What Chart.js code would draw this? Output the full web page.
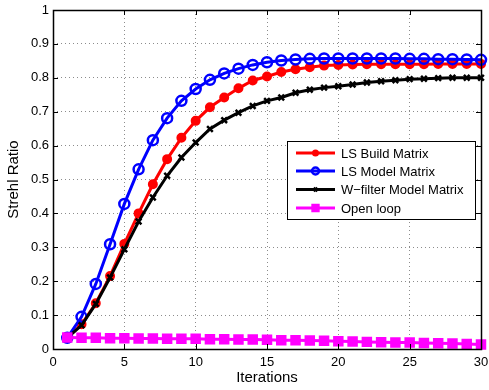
<!DOCTYPE html>
<html>
<head>
<meta charset="utf-8">
<script src="https://cdn.jsdelivr.net/npm/chart.js@4.4.1/dist/chart.umd.min.js"></script>
<style>
    html, body { margin: 0; padding: 0; background: #fff; }
    #chart { display: block; }
</style>
</head>
<body>
<canvas id="chart" width="489" height="390"></canvas>
<script>
// Données
var iterations = [1, 2, 3, 4, 5, 6, 7, 8, 9, 10, 11, 12, 13, 14, 15, 16, 17, 18, 19, 20, 21, 22, 23, 24, 25, 26, 27, 28, 29, 30];
var lsBuild = [0.033, 0.073, 0.135, 0.215, 0.310, 0.400, 0.486, 0.560, 0.623, 0.673, 0.713, 0.742, 0.769, 0.792, 0.804,
               0.817, 0.825, 0.831, 0.836, 0.838, 0.839, 0.840, 0.840, 0.840, 0.840, 0.840, 0.841, 0.841, 0.841, 0.841];
var lsModel = [0.033, 0.095, 0.192, 0.309, 0.428, 0.530, 0.616, 0.681, 0.732, 0.767, 0.794, 0.813, 0.827, 0.838, 0.846,
               0.851, 0.854, 0.856, 0.857, 0.857, 0.857, 0.857, 0.857, 0.857, 0.856, 0.856, 0.855, 0.855, 0.854, 0.853];
var wFilter = [0.033, 0.070, 0.133, 0.211, 0.294, 0.376, 0.447, 0.511, 0.565, 0.609, 0.649, 0.675, 0.697, 0.717, 0.732,
               0.742, 0.756, 0.765, 0.771, 0.775, 0.780, 0.786, 0.790, 0.793, 0.796, 0.797, 0.799, 0.800, 0.800, 0.800];
var openLoop = [0.034, 0.033, 0.033, 0.032, 0.032, 0.031, 0.031, 0.030, 0.030, 0.030, 0.029, 0.029, 0.028, 0.028, 0.027,
                0.026, 0.026, 0.025, 0.024, 0.023, 0.022, 0.021, 0.020, 0.019, 0.019, 0.018, 0.017, 0.016, 0.015, 0.013];
var seriesNames = ['LS Build Matrix', 'LS Model Matrix', 'W\u2212filter Model Matrix', 'Open loop'];
var xTicks = [0, 5, 10, 15, 20, 25, 30];
var yTicks = [0, 0.1, 0.2, 0.3, 0.4, 0.5, 0.6, 0.7, 0.8, 0.9, 1];

var FONT = 'Liberation Sans, Arial, Helvetica, sans-serif';

function toPoints(values) {
    return values.map(function(v, i) { return { x: iterations[i], y: v }; });
}

var styles = [
    { color: '#ff0000', pointStyle: 'circle', radius: 4, fill: '#ff0000', bw: 2 },
    { color: '#0000ff', pointStyle: 'circle', radius: 5, fill: 'rgba(255,255,255,0)', bw: 2.5 },
    { color: '#000000', pointStyle: 'crossRot', radius: 4, fill: '#000000', bw: 2.5 },
    { color: '#ff00ff', pointStyle: 'rect', radius: 6, fill: '#ff00ff', bw: 2 }
];
var allValues = [lsBuild, lsModel, wFilter, openLoop];

var datasets = allValues.map(function(values, i) {
    var s = styles[i];
    return {
        label: seriesNames[i],
        data: toPoints(values),
        borderColor: s.color,
        backgroundColor: s.fill,
        borderWidth: 3,
        pointStyle: s.pointStyle,
        pointRadius: s.radius,
        pointBorderWidth: s.bw,
        pointBackgroundColor: s.fill,
        pointBorderColor: s.color,
        tension: 0,
        clip: 10,
        order: 4 - i // la dernière série est dessinée au-dessus, comme dans MATLAB
    };
});

// Cadre de l'axe + petites graduations intérieures
var boxPlugin = {
    id: 'matlabBox',
    afterDatasetsDraw: function(chart) {
        var ctx = chart.ctx, a = chart.chartArea;
        var xs = chart.scales.x, ys = chart.scales.y;
        ctx.save();
        ctx.strokeStyle = '#000';
        ctx.lineWidth = 1;
        ctx.beginPath();
        xTicks.forEach(function(t) {
            var px = Math.round(xs.getPixelForValue(t)) + 0.5;
            ctx.moveTo(px, a.bottom); ctx.lineTo(px, a.bottom - 5);
            ctx.moveTo(px, a.top); ctx.lineTo(px, a.top + 5);
        });
        yTicks.forEach(function(t) {
            var py = Math.round(ys.getPixelForValue(t)) + 0.5;
            ctx.moveTo(a.left, py); ctx.lineTo(a.left + 5, py);
            ctx.moveTo(a.right, py); ctx.lineTo(a.right - 5, py);
        });
        ctx.stroke();
        ctx.lineWidth = 1.5;
        ctx.strokeRect(Math.round(a.left) + 0.5, Math.round(a.top) + 0.5,
                       Math.round(a.right - a.left), Math.round(a.bottom - a.top));
        ctx.restore();
    }
};

// Légende encadrée façon MATLAB
var legendPlugin = {
    id: 'matlabLegend',
    afterDraw: function(chart) {
        var ctx = chart.ctx;
        var bx = 287, by = 141, bw = 188, bh = 78;
        var rows = [153, 171, 189.5, 208];
        ctx.save();
        ctx.fillStyle = '#fff';
        ctx.fillRect(bx, by, bw, bh);
        ctx.strokeStyle = '#000';
        ctx.lineWidth = 1;
        ctx.strokeRect(bx + 0.5, by + 0.5, bw, bh);
        ctx.font = '13px ' + FONT;
        ctx.textBaseline = 'middle';
        rows.forEach(function(y, i) {
            var s = styles[i];
            ctx.strokeStyle = s.color;
            ctx.lineWidth = 3;
            ctx.beginPath();
            ctx.moveTo(296, y); ctx.lineTo(335, y);
            ctx.stroke();
            ctx.fillStyle = s.fill;
            ctx.strokeStyle = s.color;
            ctx.lineWidth = s.bw;
            Chart.helpers.drawPoint(ctx, { pointStyle: s.pointStyle, radius: s.radius - 1.5, borderWidth: s.bw, rotation: 0 }, 315.5, y);
            ctx.fillStyle = '#000';
            ctx.fillText(seriesNames[i], 341, y + 1);
        });
        ctx.restore();
    }
};

var ctx = document.getElementById('chart').getContext('2d');
var chart = new Chart(ctx, {
    type: 'line',
    data: { datasets: datasets },
    options: {
        responsive: false,
        animation: false,
        layout: { padding: { left: 0, right: 6, top: 10, bottom: 0 } },
        plugins: {
            legend: { display: false },
            tooltip: { enabled: false }
        },
        scales: {
            x: {
                type: 'linear',
                min: 0,
                max: 30,
                afterBuildTicks: function(scale) {
                    scale.ticks = xTicks.map(function(v) { return { value: v }; });
                },
                afterFit: function(scale) {
                    scale.height = 41;
                    scale.paddingLeft = 0;
                    scale.paddingRight = 0;
                },
                grid: { color: '#8c8c8c', lineWidth: 1, drawTicks: false },
                border: { display: false, dash: [1, 3] },
                ticks: {
                    color: '#000',
                    padding: 6,
                    maxRotation: 0,
                    font: { family: FONT, size: 13 }
                },
                title: {
                    display: true,
                    text: 'Iterations',
                    color: '#000',
                    padding: { top: 0, bottom: 3 },
                    font: { family: FONT, size: 15 }
                }
            },
            y: {
                min: 0,
                max: 1,
                afterBuildTicks: function(scale) {
                    scale.ticks = yTicks.map(function(v) { return { value: v }; });
                },
                afterFit: function(scale) {
                    scale.width = 53;
                    scale.paddingTop = 0;
                    scale.paddingBottom = 0;
                },
                grid: { color: '#8c8c8c', lineWidth: 1, drawTicks: false },
                border: { display: false, dash: [1, 3] },
                ticks: {
                    color: '#000',
                    padding: 4,
                    font: { family: FONT, size: 13 },
                    callback: function(v) { return String(+v.toFixed(1)); }
                },
                title: {
                    display: true,
                    text: 'Strehl Ratio',
                    color: '#000',
                    padding: { top: 5, bottom: 0 },
                    font: { family: FONT, size: 15 }
                }
            }
        }
    },
    plugins: [boxPlugin, legendPlugin]
});
</script>
</body>
</html>
